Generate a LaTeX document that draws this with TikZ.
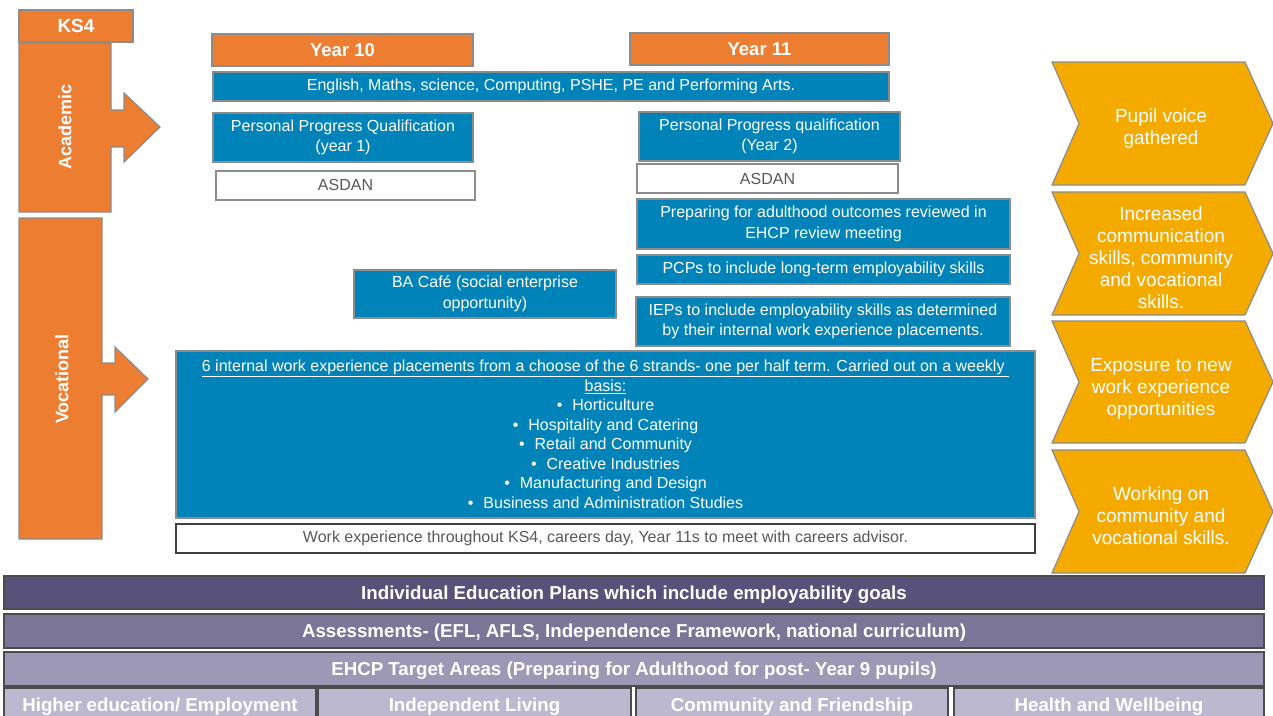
\documentclass[tikz,border=0pt]{standalone}
\usepackage{fontspec}
\setmainfont{Liberation Sans}
\definecolor{myorange}{HTML}{ED7D31}
\definecolor{myblue}{HTML}{0083B8}
\definecolor{mygold}{HTML}{F5AA00}
\definecolor{bordergray}{HTML}{8C8C8C}
\definecolor{txtgray}{HTML}{595959}
\definecolor{purA}{HTML}{58527B}
\definecolor{purB}{HTML}{7B7598}
\definecolor{purC}{HTML}{9D98B5}
\definecolor{purD}{HTML}{BCB8CF}
\newcommand{\lowertext}[1]{\raisebox{-2pt}[\height][\depth]{#1}}
\begin{document}
\begin{tikzpicture}[x=1pt,y=-1pt,
  base/.style={draw=bordergray, line width=1.2pt, inner sep=0pt, align=center,
    text=white, font=\fontsize{16}{20.5}\selectfont},
  bluebox/.style={base, fill=myblue},
  whitebox/.style={base, fill=white, text=txtgray},
  orangebox/.style={base, fill=myorange, font=\bfseries\fontsize{18.5}{22}\selectfont},
  barbox/.style={draw=black!70, line width=1.2pt, inner sep=0pt, align=center,
    text=white, font=\bfseries\fontsize{18.7}{22}\selectfont, minimum width=1260},
  arrowshape/.style={draw=bordergray, line width=1.2pt, fill=myorange},
  chev/.style={draw=black!45, line width=1.2pt, fill=mygold},
  chevtext/.style={align=center, text=white, font=\fontsize{19}{22}\selectfont},
  sidetext/.style={rotate=90, text=white, font=\bfseries\fontsize{18}{22}\selectfont}
]
\clip (0,0) rectangle (1273,715);
\fill[white] (0,0) rectangle (1273,715);

% side arrows
\draw[arrowshape] (19,43) -- (111,43) -- (111,110) -- (124,110) -- (124,93) -- (160,127)
  -- (124,162) -- (124,147) -- (111,147) -- (111,212) -- (19,212) -- cycle;
\node[sidetext] (acad) at (65,127) {Academic};
\draw[arrowshape] (19,218) -- (102,218) -- (102,363) -- (115,363) -- (115,347) -- (148,379)
  -- (115,412) -- (115,395) -- (102,395) -- (102,539) -- (19,539) -- cycle;
\node[sidetext] (voc) at (62,379) {Vocational};

\node[orangebox, minimum width=114, minimum height=32, font=\bfseries\fontsize{19}{22}\selectfont] (ks4) at (76,26) {KS4};

% top
\node[orangebox, minimum width=261, minimum height=32] (y10) at (342.5,50) {Year 10};
\node[orangebox, minimum width=259, minimum height=32] (y11) at (759.5,49) {Year 11};
\node[bluebox, minimum width=676, minimum height=29] (eng) at (551,86.5)
  {English, Maths, science, Computing, PSHE, PE and Performing Arts.};
\node[bluebox, minimum width=260, minimum height=49] (ppq1) at (343,137.5)
  {Personal Progress Qualification\\(year 1)};
\node[whitebox, minimum width=259, minimum height=29] (asd1) at (345.5,185.5) {\raisebox{1.5pt}{ASDAN}};
\node[bluebox, minimum width=261, minimum height=49] (ppq2) at (769.5,136.5)
  {Personal Progress qualification\\(Year 2)};
\node[whitebox, minimum width=261, minimum height=29] (asd2) at (767.5,178.5) {ASDAN};
\node[bluebox, minimum width=373, minimum height=50] (prep) at (823.5,224)
  {Preparing for adulthood outcomes reviewed in\\EHCP review meeting};
\node[bluebox, minimum width=373, minimum height=29] (pcp) at (823.5,269.5)
  {PCPs to include long-term employability skills};
\node[bluebox, minimum width=374, minimum height=49] (iep) at (823,321.5)
  {IEPs to include employability skills as determined\\by their internal work experience placements.};
\node[bluebox, minimum width=262, minimum height=48] (cafe) at (485,294)
  {BA Café (social enterprise\\opportunity)};
\node[bluebox, minimum width=859, minimum height=167,
  font=\fontsize{16}{19.5}\selectfont] (big) at (605.5,434.5)
  {\underline{6 internal work experience placements from a choose of the 6 strands- one per half term. Carried out on a weekly\ }\\
   \underline{basis:}\\
   \textbullet\hspace{10pt}Horticulture\\
   \textbullet\hspace{10pt}Hospitality and Catering\\
   \textbullet\hspace{10pt}Retail and Community\\
   \textbullet\hspace{10pt}Creative Industries\\
   \textbullet\hspace{10pt}Manufacturing and Design\\
   \textbullet\hspace{10pt}Business and Administration Studies};
\node[whitebox, draw=black!75, minimum width=859, minimum height=29] (wexp) at (605.5,538.5)
  {Work experience throughout KS4, careers day, Year 11s to meet with careers advisor.};

% chevrons
\draw[chev] (1052,62) -- (1245,62) -- (1273,123.5) -- (1245,185) -- (1052,185) -- (1079,123.5) -- cycle;
\node[chevtext] (c1) at (1161,129) {Pupil voice\\gathered};
\draw[chev] (1052,192) -- (1245,192) -- (1273,253.5) -- (1245,315) -- (1052,315) -- (1079,253.5) -- cycle;
\node[chevtext] (c2) at (1161,258) {Increased\\communication\\skills, community\\and vocational\\skills.};
\draw[chev] (1052,321) -- (1245,321) -- (1273,382) -- (1245,443) -- (1052,443) -- (1079,382) -- cycle;
\node[chevtext] (c3) at (1161,389) {Exposure to new\\work experience\\opportunities};
\draw[chev] (1052,450) -- (1245,450) -- (1273,511.5) -- (1245,573) -- (1052,573) -- (1079,511.5) -- cycle;
\node[chevtext] (c4) at (1161,516) {Working on\\community and\\vocational skills.};

% bottom bars
\node[barbox, fill=purA, minimum height=33] (bar1) at (634,592.5)
  {\lowertext{Individual Education Plans which include employability goals}};
\node[barbox, fill=purB, minimum height=34] (bar2) at (634,631)
  {\lowertext{Assessments- (EFL, AFLS, Independence Framework, national curriculum)}};
\node[barbox, fill=purC, minimum height=34] (bar3) at (634,669)
  {\lowertext{EHCP Target Areas (Preparing for Adulthood for post- Year 9 pupils)}};
\node[barbox, fill=purD, minimum width=312, minimum height=38] (b1) at (160,707) {Higher education/ Employment};
\node[barbox, fill=purD, minimum width=313, minimum height=38] (b2) at (474.5,707) {Independent Living};
\node[barbox, fill=purD, minimum width=312, minimum height=38] (b3) at (792,707) {Community and Friendship};
\node[barbox, fill=purD, minimum width=310, minimum height=38] (b4) at (1109,707) {Health and Wellbeing};
\end{tikzpicture}
\end{document}
